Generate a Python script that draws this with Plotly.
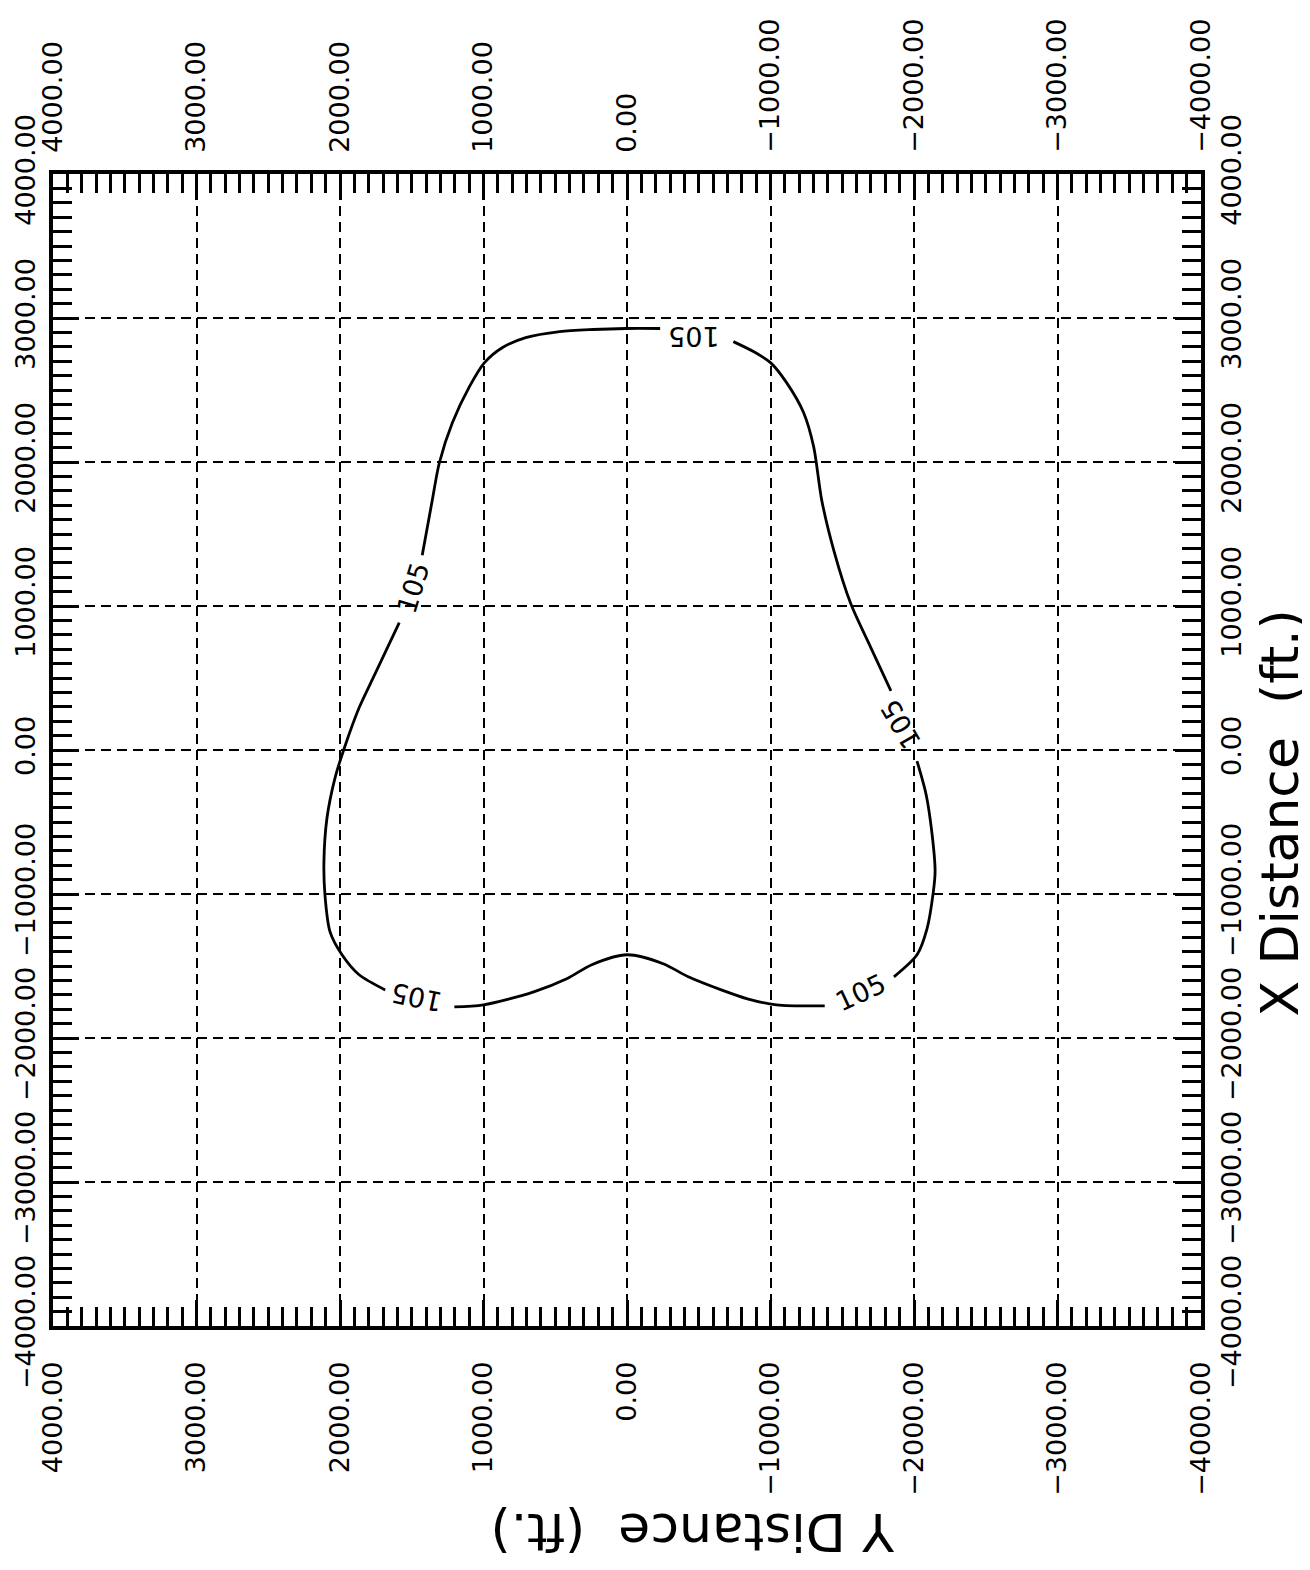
import plotly.graph_objects as go

# Tick values (ft.)
tick_vals = [-4000, -3000, -2000, -1000, 0, 1000, 2000, 3000, 4000]
tick_text = [f"{v:.2f}".replace("-", "\u2212") for v in tick_vals]

# 105 contour, split into segments where the labels sit (None = gap)
# y_dist -> horizontal axis, x_dist -> vertical axis
contour_y = [-741, -881, -1000, -1112, -1231, -1301, -1357, -1441, -1559, -1699, -1839, None,
             -2021, -2084, -2126, -2147, -2133, -2091, -2021, -1860, None,
             -1378, -1042, -839, -657, -427, -252, 0, 245, 420, 650, 1000, 1203, None,
             1685, 1867, 1986, 2070, 2105, 2112, 2091, 2035, 1972, 1867, 1755, 1587, None,
             1427, 1357, 1308, 1217, 1098, 993, 867, 706, 469, 238, 7, -231]
contour_x = [2836, 2767, 2690, 2551, 2342, 2105, 1735, 1387, 1017, 711, 411, None,
             -77, -307, -585, -843, -997, -1240, -1422, -1575, None,
             -1777, -1770, -1728, -1666, -1575, -1484, -1422, -1491, -1589, -1680, -1770, -1784, None,
             -1666, -1561, -1422, -1261, -1004, -774, -474, -195, 7, 293, 530, 885, None,
             1352, 1735, 1993, 2272, 2523, 2690, 2795, 2864, 2906, 2920, 2927, 2927]

# Contour labels
label_text = ["105", "105", "105", "105", "105"]
label_y = [-462, 1490, -1909, -1629, 1469]
label_x = [2871, 1129, 181, -1686, -1714]
label_angle = [180, -73, -120, -25, -168]

FONT = "DejaVu Sans"

fig = go.Figure()
fig.add_trace(go.Scatter(x=contour_y, y=contour_x, mode="lines",
                         line=dict(color="black", width=2.8, shape="spline", smoothing=0.8),
                         connectgaps=False, showlegend=False, hoverinfo="skip"))
fig.add_trace(go.Scatter(x=[None], y=[None], xaxis="x2", yaxis="y2",
                         showlegend=False, hoverinfo="skip"))

for t, yv, xv, a in zip(label_text, label_y, label_x, label_angle):
    fig.add_annotation(x=yv, y=xv, xref="x", yref="y", text=t, showarrow=False,
                       textangle=a, font=dict(family=FONT, size=27, color="black"))

common = dict(
    tickvals=tick_vals, ticktext=tick_text, tickangle=-90,
    ticks="inside", ticklen=26, tickwidth=2.5, tickcolor="black",
    minor=dict(dtick=100, ticks="inside", ticklen=19, tickwidth=2.5, tickcolor="black", showgrid=False),
    showline=True, linewidth=3.5, linecolor="black",
    tickfont=dict(family=FONT, size=27, color="black"),
    zeroline=False, automargin=False,
)

fig.update_layout(
    width=1310, height=1570,
    margin=dict(l=45, r=117, t=166, b=252),
    paper_bgcolor="white", plot_bgcolor="white",
    xaxis=dict(range=[4000, -4000], side="bottom", showgrid=True, gridcolor="black",
               gridwidth=2.2, griddash="10px,6px", mirror=True, ticklabelstandoff=21, **common),
    yaxis=dict(range=[-4000, 4000], side="left", showgrid=True, gridcolor="black",
               gridwidth=2.2, griddash="10px,6px", mirror=True, ticklabelstandoff=3, **common),
    xaxis2=dict(range=[4000, -4000], side="top", overlaying="x", anchor="y",
                showgrid=False, ticklabelstandoff=12, **common),
    yaxis2=dict(range=[-4000, 4000], side="right", overlaying="y", anchor="x",
                showgrid=False, ticklabelstandoff=4, **common),
)

fig.add_annotation(x=1.069, y=0.445, xref="paper", yref="paper", xanchor="center", yanchor="middle",
                   text="X Distance\u00a0\u00a0(ft.)", showarrow=False, textangle=-90,
                   font=dict(family=FONT, size=52, color="black"))
fig.add_annotation(x=0.5575, y=-0.179, xref="paper", yref="paper", xanchor="center", yanchor="middle",
                   text="Y Distance\u00a0\u00a0(ft.)", showarrow=False, textangle=180,
                   font=dict(family=FONT, size=52, color="black"))

fig.write_html("out.html")
